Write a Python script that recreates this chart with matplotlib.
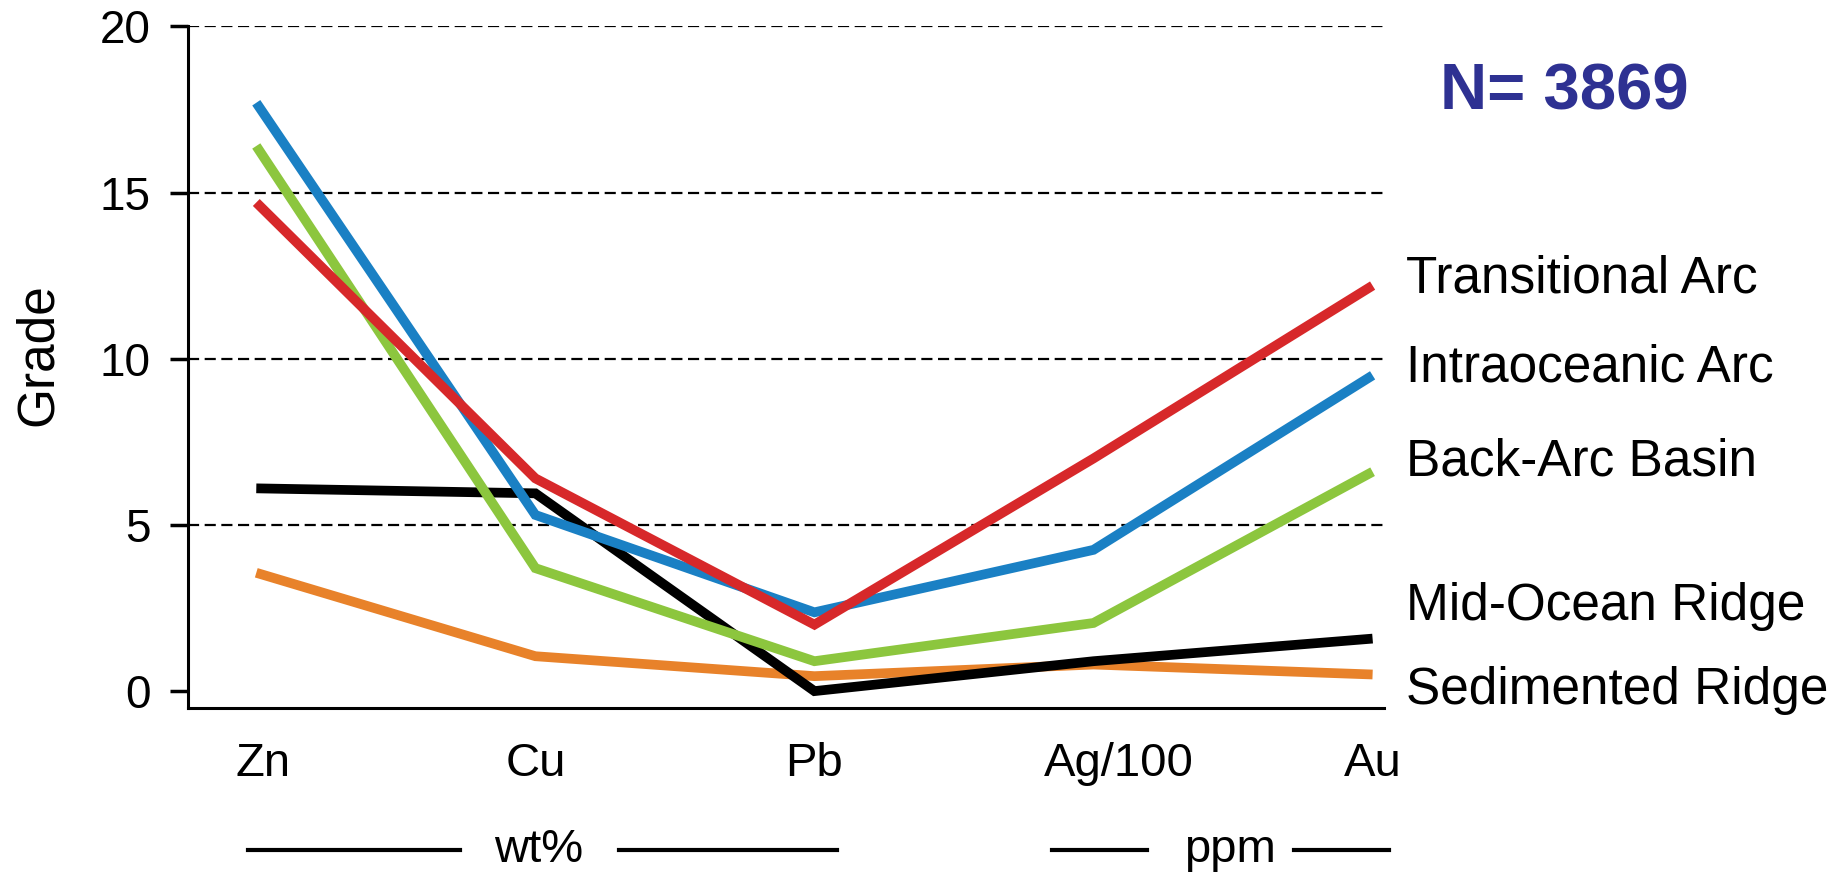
import matplotlib
matplotlib.use('Agg')
import matplotlib.pyplot as plt
from matplotlib.lines import Line2D
from matplotlib.transforms import blended_transform_factory, ScaledTranslation
import numpy as np

#-------------------------------------------------------------------
# Mean grades per tectonic setting
#-------------------------------------------------------------------
metals = ['Zn', 'Cu', 'Pb', 'Ag/100', 'Au']
settings = ['Transitional Arc', 'Intraoceanic Arc', 'Back-Arc Basin',
            'Mid-Ocean Ridge', 'Sedimented Ridge']

transitional_arc = [14.7, 6.4, 2.0, 7.0, 12.2]
intraoceanic_arc = [17.7, 5.3, 2.37, 4.25, 9.5]
back_arc_basin = [16.4, 3.7, 0.9, 2.05, 6.6]
mid_ocean_ridge = [6.1, 5.95, 0.0, 0.9, 1.58]
sedimented_ridge = [3.56, 1.05, 0.45, 0.8, 0.5]

n_deposits = 3869
# baseline of each series name, in grade units
label_y = [12.0, 9.3, 6.5, 2.15, -0.4]

clr = {'Transitional Arc': '#d7282a',
       'Intraoceanic Arc': '#1a80c4',
       'Back-Arc Basin': '#8cc63e',
       'Mid-Ocean Ridge': '#000000',
       'Sedimented Ridge': '#e8822a'}
series = {'Transitional Arc': transitional_arc,
          'Intraoceanic Arc': intraoceanic_arc,
          'Back-Arc Basin': back_arc_basin,
          'Mid-Ocean Ridge': mid_ocean_ridge,
          'Sedimented Ridge': sedimented_ridge}
zord = {'Sedimented Ridge': 3, 'Mid-Ocean Ridge': 4, 'Back-Arc Basin': 5,
        'Intraoceanic Arc': 6, 'Transitional Arc': 7}

plt.rcParams['font.family'] = ['Liberation Sans', 'DejaVu Sans']

fig = plt.figure(figsize=(18.45, 8.77), dpi=100)
ax = fig.add_axes([0.102, 0.193, 0.648, 0.777])

x = np.arange(len(metals))
for name in settings:
    ax.plot(x, series[name], color=clr[name], linewidth=7,
            solid_joinstyle='miter', solid_capstyle='butt', zorder=zord[name])

# dashed grade grid
for g in [5, 10, 15, 20]:
    ax.axhline(g, color='black', linewidth=1.6, linestyle=(0, (5, 2.5)), zorder=1)

ax.set_xlim(-0.244, 4.04)
ax.set_ylim(-0.5, 20)
ax.set_yticks([0, 5, 10, 15, 20])
ax.set_xticks(x)
ax.set_xticklabels(metals)
ax.tick_params(axis='y', direction='out', length=13, width=2.5, labelsize=33, pad=14)
ax.tick_params(axis='x', length=0, labelsize=34, pad=25)
for lbl in ax.get_xticklabels():
    if lbl.get_text() == 'Ag/100':
        lbl.set_transform(lbl.get_transform() + ScaledTranslation(0.25, 0, fig.dpi_scale_trans))
    elif lbl.get_text() == 'Zn':
        lbl.set_transform(lbl.get_transform() + ScaledTranslation(0.07, 0, fig.dpi_scale_trans))
for s in ['top', 'right']:
    ax.spines[s].set_visible(False)
ax.spines['left'].set_linewidth(2.2)
ax.spines['bottom'].set_linewidth(2.2)
fig.text(0.021, 0.596, 'Grade', fontsize=37, rotation=90, ha='center', va='center')

# series names at the right end of the lines
for name, yy in zip(settings, label_y):
    ax.text(4.12, yy, name, fontsize=37, ha='left', va='baseline', clip_on=False)

fig.text(0.848, 0.895, 'N= ' + str(n_deposits), fontsize=47, fontweight='bold',
         color='#2e3192', ha='center', va='center')

# unit brackets below the element names
tr = blended_transform_factory(ax.transData, fig.transFigure)
yb = 0.031
for x0, x1 in [(-0.03, 0.73), (1.3, 2.08), (2.85, 3.19), (3.72, 4.06)]:
    fig.add_artist(Line2D([x0, x1], [yb, yb], transform=tr, color='black', linewidth=3))
fig.text(1.01, yb, 'wt%', transform=tr, fontsize=34, ha='center', va='center')
fig.text(3.49, yb, 'ppm', transform=tr, fontsize=34, ha='center', va='center')

plt.savefig('out.png', dpi=100)
plt.close('all')
